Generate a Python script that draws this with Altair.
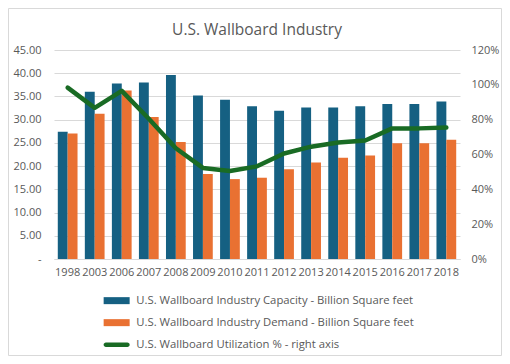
import altair as alt
import pandas as pd

years = ["1998", "2003", "2006", "2007", "2008", "2009", "2010", "2011",
         "2012", "2013", "2014", "2015", "2016", "2017", "2018"]
capacity = [27.4, 36.0, 37.8, 38.0, 39.6, 35.2, 34.3, 32.9, 31.9, 32.6, 32.6, 32.9, 33.4, 33.4, 33.9]
demand = [27.0, 31.3, 36.3, 30.6, 25.2, 18.3, 17.2, 17.5, 19.3, 20.8, 21.8, 22.3, 24.9, 24.9, 25.7]
utilization = [0.984, 0.868, 0.965, 0.805, 0.636, 0.523, 0.505, 0.532, 0.606, 0.645,
               0.669, 0.680, 0.750, 0.750, 0.755]

CAP = "U.S. Wallboard Industry Capacity - Billion Square feet"
DEM = "U.S. Wallboard Industry Demand - Billion Square feet"
UTIL = "U.S. Wallboard Utilization % - right axis"
series = [CAP, DEM, UTIL]
colors = ["#156082", "#E97132", "#196B24"]

bars_df = pd.DataFrame(
    [{"year": y, "series": CAP, "value": v} for y, v in zip(years, capacity)]
    + [{"year": y, "series": DEM, "value": v} for y, v in zip(years, demand)]
)
line_df = pd.DataFrame({"year": years, "util": utilization})

FONT = "Open Sans"
GRAY = "#595959"

rect_path = "M-2.6,-0.7H2.6V0.7H-2.6Z"
line_path = "M-2.15,-0.45H2.15A0.45,0.45 0 0 1 2.15,0.45H-2.15A0.45,0.45 0 0 1 -2.15,-0.45Z"
shape_expr = f"datum.value == '{UTIL}' ? '{line_path}' : '{rect_path}'"

x_enc = alt.X("year:N", sort=years, title=None,
              scale=alt.Scale(paddingInner=0.27, paddingOuter=0.14),
              axis=alt.Axis(labelAngle=0, labelFontSize=11, labelColor=GRAY, labelFont=FONT,
                            ticks=False, domainColor="#d9d9d9", labelPadding=7,
                            labelOverlap=False))

bars = alt.Chart(bars_df).mark_bar().encode(
    x=x_enc,
    xOffset=alt.XOffset("series:N", sort=[CAP, DEM], scale=alt.Scale(domain=[CAP, DEM])),
    y=alt.Y("value:Q", stack=None, title=None,
            scale=alt.Scale(domain=[0, 45], nice=False),
            axis=alt.Axis(values=list(range(0, 46, 5)), grid=True, gridColor="#d9d9d9",
                          domain=False, ticks=False, labelPadding=13, labelFontSize=11,
                          labelColor=GRAY, labelFont=FONT,
                          labelExpr="datum.value == 0 ? '-\u00a0\u00a0\u00a0' : format(datum.value, '.2f')")),
    color=alt.Color("series:N", scale=alt.Scale(domain=series, range=colors),
                    legend=alt.Legend(title=None, orient="none", legendX=57, legendY=245,
                                      direction="vertical", labelFontSize=11.3, labelColor=GRAY,
                                      labelFont=FONT, symbolSize=100, rowPadding=10,
                                      labelOffset=14, padding=0, symbolStrokeWidth=0,
                                      symbolOpacity=1, labelLimit=0,
                                      symbolType=alt.ExprRef(expr=shape_expr))),
)

line = alt.Chart(line_df).mark_line(color="#196B24", strokeWidth=4.5, strokeCap="round",
                                    strokeJoin="round").encode(
    x=alt.X("year:N", sort=years),
    y=alt.Y("util:Q", title=None, scale=alt.Scale(domain=[0, 1.2], nice=False),
            axis=alt.Axis(orient="right", values=[0, 0.2, 0.4, 0.6, 0.8, 1.0, 1.2], format=".0%",
                          grid=False, domain=False, ticks=False, labelPadding=11,
                          labelFontSize=11, labelColor=GRAY, labelFont=FONT)),
)

frame = alt.Chart(alt.Data(values=[{}])).mark_rect(fill=None, stroke="#d9d9d9", strokeWidth=1).encode(
    x=alt.value(-45.5), x2=alt.value(406 + 41.5), y=alt.value(-41.5), y2=alt.value(209 + 96.5)
)

chart = alt.layer(bars, line, frame).resolve_scale(y="independent").properties(
    width=406, height=209,
    autosize=alt.AutoSizeParams(type="none"),
    padding={"left": 46, "top": 42, "right": 42, "bottom": 97},
    title=alt.Title("U.S. Wallboard Industry", fontSize=15.5, font=FONT, color=GRAY,
                    fontWeight="normal", anchor="middle", offset=-42, baseline="alphabetic",
                    frame="group"),
).configure_view(stroke=None)

chart.save("out.html", embed_options={"renderer": "svg", "actions": False})
